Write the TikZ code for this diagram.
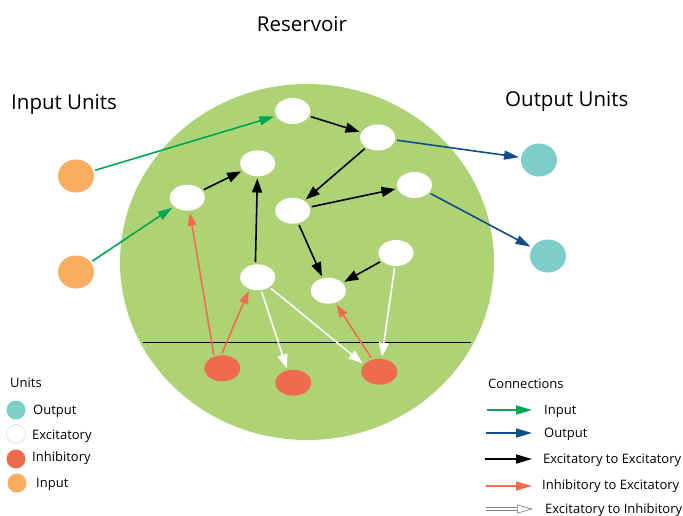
\documentclass[tikz,border=0pt]{standalone}
\usepackage{fontspec}
\setmainfont{Open Sans}
\usetikzlibrary{arrows.meta,shapes.geometric}
\definecolor{resgreen}{RGB}{174,211,117}
\definecolor{inorange}{RGB}{250,173,95}
\definecolor{outteal}{RGB}{125,205,200}
\definecolor{inhred}{RGB}{239,107,80}
\definecolor{ingreen}{RGB}{0,166,81}
\definecolor{outblue}{RGB}{16,76,138}
\definecolor{redarrow}{RGB}{242,108,79}
\tikzset{
  x=1pt,y=-1pt,
  unit/.style={ellipse,minimum width=35pt,minimum height=26pt,inner sep=0pt,draw=none},
  exc/.style={unit,fill=white},
  inh/.style={unit,fill=inhred,minimum width=36pt},
  inp/.style={unit,fill=inorange,minimum width=36pt,minimum height=33pt},
  outu/.style={unit,fill=outteal,minimum width=36pt,minimum height=33pt},
  conn/.style={line width=1.6pt,shorten <=2pt,shorten >=2pt},
  ee/.style={conn,black,-{Triangle[length=14pt,width=10pt]}},
  ie/.style={conn,redarrow,-{Triangle[length=13pt,width=9pt]}},
  ei/.style={conn,white,-{Triangle[length=14pt,width=10pt]}},
  inarr/.style={conn,ingreen,-{Triangle[length=15pt,width=9pt]}},
  outarr/.style={conn,outblue,-{Triangle[length=15pt,width=9pt]}},
  lbl/.style={anchor=west,inner sep=0pt,font=\fontsize{13}{15}\selectfont},
  title/.style={inner sep=0pt,font=\fontsize{20.5}{24}\selectfont},
  legdot/.style={circle,minimum size=19pt,inner sep=0pt},
  legarr/.style={line width=1.6pt,-{Triangle[length=16pt,width=9pt]}},
}
\begin{document}
\begin{tikzpicture}
\useasboundingbox (0,0) rectangle (683,516);
% reservoir
\fill[resgreen] (307,262) ellipse [x radius=187, y radius=178];
\draw[black,line width=0.8pt] (143,342) -- (471,342);
% titles
\node[title] (restitle) at (302,24) {Reservoir};
\node[title,anchor=west] (intitle) at (11,104) {Input Units};
\node[title,anchor=west] (outtitle) at (505,101) {Output Units};
% units
\node[exc] (A) at (292.7,111) {};
\node[exc] (B) at (377.7,137.5) {};
\node[exc] (C) at (257.7,163.3) {};
\node[exc] (D) at (187.3,197.7) {};
\node[exc] (E) at (414.5,185) {};
\node[exc] (F) at (292.7,210.7) {};
\node[exc] (G) at (396,253) {};
\node[exc] (H) at (257.7,277.3) {};
\node[exc] (I) at (328.3,290.7) {};
\node[inh] (R1) at (222.3,368.3) {};
\node[inh] (R2) at (293.3,382.7) {};
\node[inh] (R3) at (379.3,371.7) {};
\node[inp] (In1) at (76,176) {};
\node[inp] (In2) at (76,272) {};
\node[outu] (O1) at (539,160) {};
\node[outu] (O2) at (548,256) {};
% input connections
\draw[inarr] (In1) -- (A);
\draw[inarr] (In2) -- (D);
% output connections
\draw[outarr] (B) -- (O1);
\draw[outarr] (E) -- (O2);
% excitatory to excitatory
\draw[ee] (A) -- (B);
\draw[ee] (B) -- (F);
\draw[ee] (D) -- (C);
\draw[ee] (H.100) -- (C);
\draw[ee] (F) -- (E);
\draw[ee] (F) -- (I);
\draw[ee] (G) -- (I);
% inhibitory to excitatory
\draw[ie] (R1.125) -- (D.-80);
\draw[ie] (R1.95) -- (H.235);
\draw[ie] (R3.120) -- (I.-60);
% excitatory to inhibitory
\draw[ei] (H.-75) -- (R2.115);
\draw[ei] (H.-40) -- (R3.155);
\draw[ei] (G.-95) -- (R3.80);
% legend units
\node[lbl] (lunits) at (10,383) {Units};
\node[legdot,fill=outteal] (dout) at (16,410) {};
\node[legdot,fill=white,draw=black!15,line width=0.6pt] (dexc) at (16,434) {};
\node[legdot,fill=inhred] (dinh) at (16,459) {};
\node[legdot,fill=inorange] (dinp) at (17,483) {};
\node[lbl] (tout) at (33,411) {Output};
\node[lbl] (texc) at (32,436) {Excitatory};
\node[lbl] (tinh) at (32,458) {Inhibitory};
\node[lbl] (tinp) at (36,484) {Input};
% legend connections
\node[lbl] (lconn) at (488,384) {Connections};
\coordinate (a1) at (487,410); \coordinate (b1) at (532,410);
\coordinate (a2) at (486,433); \coordinate (b2) at (532,433);
\coordinate (a3) at (485,459); \coordinate (b3) at (532,459);
\coordinate (a4) at (486,486); \coordinate (b4) at (532,486);
\coordinate (a5) at (486,509); \coordinate (c5) at (517,509); \coordinate (b5) at (533,509);
\draw[legarr,ingreen] (a1) -- (b1);
\draw[legarr,outblue] (a2) -- (b2);
\draw[legarr,black] (a3) -- (b3);
\draw[legarr,redarrow] (a4) -- (b4);
\draw[gray,line width=3.4pt] (a5) -- (c5);
\draw[white,line width=2pt] (a5) -- (c5);
\draw[gray,line width=0.7pt,-{Triangle[open,fill=white,length=16pt,width=9pt]}] (c5) -- (b5);
\node[lbl] (tc1) at (544,411) {Input};
\node[lbl] (tc2) at (544,434) {Output};
\node[lbl] (tc3) at (543,460) {Excitatory to Excitatory};
\node[lbl] (tc4) at (542,486) {Inhibitory to Excitatory};
\node[lbl] (tc5) at (545,510) {Excitatory to Inhibitory};
\end{tikzpicture}
\end{document}
